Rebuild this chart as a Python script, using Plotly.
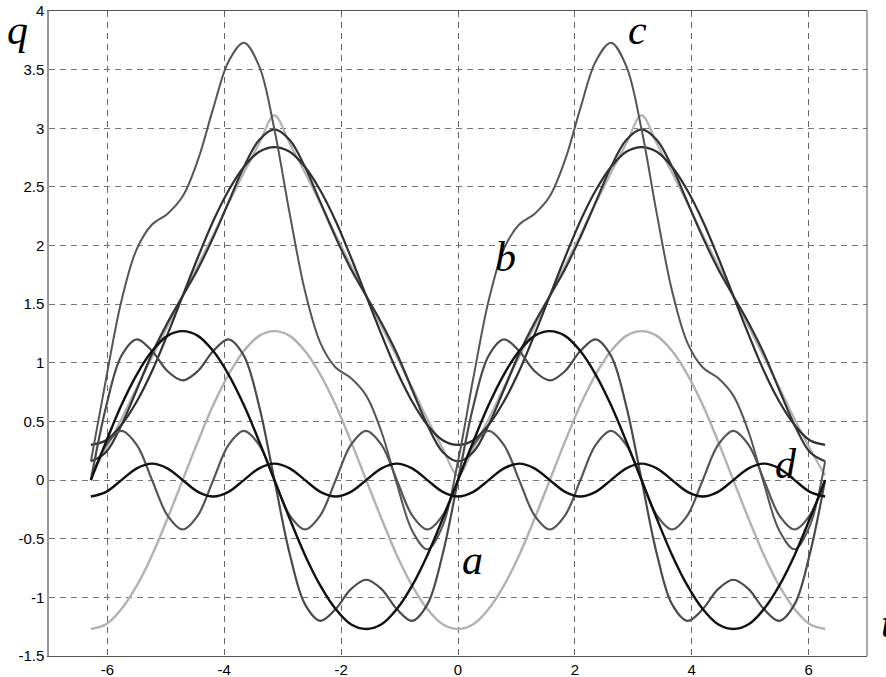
import plotly.graph_objects as go

# sampling grid t (from -2*pi to 2*pi, step pi/12)
t = [-6.283, -6.021, -5.760, -5.498, -5.236, -4.974, -4.712, -4.451, -4.189, -3.927,
     -3.665, -3.403, -3.142, -2.880, -2.618, -2.356, -2.094, -1.833, -1.571, -1.309,
     -1.047, -0.785, -0.524, -0.262, 0.000, 0.262, 0.524, 0.785, 1.047, 1.309,
     1.571, 1.833, 2.094, 2.356, 2.618, 2.880, 3.142, 3.403, 3.665, 3.927,
     4.189, 4.451, 4.712, 4.974, 5.236, 5.498, 5.760, 6.021, 6.283]

# first cosine harmonic (light gray)
cos1 = [-1.27, -1.23, -1.10, -0.90, -0.64, -0.33, 0.00, 0.33, 0.64, 0.90, 1.10, 1.23, 1.27,
        1.23, 1.10, 0.90, 0.64, 0.33, 0.00, -0.33, -0.64, -0.90, -1.10, -1.23, -1.27,
        -1.23, -1.10, -0.90, -0.64, -0.33, 0.00, 0.33, 0.64, 0.90, 1.10, 1.23, 1.27,
        1.23, 1.10, 0.90, 0.64, 0.33, 0.00, -0.33, -0.64, -0.90, -1.10, -1.23, -1.27]
# third cosine harmonic (curve d)
cos3 = [-0.14, -0.10, 0.00, 0.10, 0.14, 0.10, 0.00, -0.10, -0.14, -0.10, 0.00, 0.10, 0.14,
        0.10, 0.00, -0.10, -0.14, -0.10, 0.00, 0.10, 0.14, 0.10, 0.00, -0.10, -0.14,
        -0.10, 0.00, 0.10, 0.14, 0.10, 0.00, -0.10, -0.14, -0.10, 0.00, 0.10, 0.14,
        0.10, 0.00, -0.10, -0.14, -0.10, 0.00, 0.10, 0.14, 0.10, 0.00, -0.10, -0.14]
# triangle partial sum, 1 term
tri1 = [0.30, 0.34, 0.47, 0.67, 0.93, 1.24, 1.57, 1.90, 2.21, 2.47, 2.67, 2.80, 2.84,
        2.80, 2.67, 2.47, 2.21, 1.90, 1.57, 1.24, 0.93, 0.67, 0.47, 0.34, 0.30,
        0.34, 0.47, 0.67, 0.93, 1.24, 1.57, 1.90, 2.21, 2.47, 2.67, 2.80, 2.84,
        2.80, 2.67, 2.47, 2.21, 1.90, 1.57, 1.24, 0.93, 0.67, 0.47, 0.34, 0.30]
# triangle partial sum, 2 terms
tri3 = [0.16, 0.24, 0.47, 0.77, 1.08, 1.34, 1.57, 1.80, 2.07, 2.37, 2.67, 2.90, 2.99,
        2.90, 2.67, 2.37, 2.07, 1.80, 1.57, 1.34, 1.08, 0.77, 0.47, 0.24, 0.16,
        0.24, 0.47, 0.77, 1.08, 1.34, 1.57, 1.80, 2.07, 2.37, 2.67, 2.90, 2.99,
        2.90, 2.67, 2.37, 2.07, 1.80, 1.57, 1.34, 1.08, 0.77, 0.47, 0.24, 0.16]
# triangle wave (light gray)
triF = [0.04, 0.27, 0.52, 0.79, 1.05, 1.31, 1.57, 1.83, 2.09, 2.36, 2.62, 2.87, 3.11,
        2.87, 2.62, 2.36, 2.09, 1.83, 1.57, 1.31, 1.05, 0.79, 0.52, 0.27, 0.04,
        0.27, 0.52, 0.79, 1.05, 1.31, 1.57, 1.83, 2.09, 2.36, 2.62, 2.87, 3.11,
        2.87, 2.62, 2.36, 2.09, 1.83, 1.57, 1.31, 1.05, 0.79, 0.52, 0.27, 0.04]
# first sine harmonic (black)
sin1 = [0.00, 0.33, 0.64, 0.90, 1.10, 1.23, 1.27, 1.23, 1.10, 0.90, 0.64, 0.33, 0.00,
        -0.33, -0.64, -0.90, -1.10, -1.23, -1.27, -1.23, -1.10, -0.90, -0.64, -0.33, 0.00,
        0.33, 0.64, 0.90, 1.10, 1.23, 1.27, 1.23, 1.10, 0.90, 0.64, 0.33, 0.00,
        -0.33, -0.64, -0.90, -1.10, -1.23, -1.27, -1.23, -1.10, -0.90, -0.64, -0.33, 0.00]
# third sine harmonic
sin3 = [0.00, 0.30, 0.42, 0.30, 0.00, -0.30, -0.42, -0.30, 0.00, 0.30, 0.42, 0.30, 0.00,
        -0.30, -0.42, -0.30, 0.00, 0.30, 0.42, 0.30, 0.00, -0.30, -0.42, -0.30, 0.00,
        0.30, 0.42, 0.30, 0.00, -0.30, -0.42, -0.30, 0.00, 0.30, 0.42, 0.30, 0.00,
        -0.30, -0.42, -0.30, 0.00, 0.30, 0.42, 0.30, 0.00, -0.30, -0.42, -0.30, 0.00]
# square partial sum, 2 terms
sq3 = [0.00, 0.63, 1.06, 1.20, 1.10, 0.93, 0.85, 0.93, 1.10, 1.20, 1.06, 0.63, 0.00,
       -0.63, -1.06, -1.20, -1.10, -0.93, -0.85, -0.93, -1.10, -1.20, -1.06, -0.63, 0.00,
       0.63, 1.06, 1.20, 1.10, 0.93, 0.85, 0.93, 1.10, 1.20, 1.06, 0.63, 0.00,
       -0.63, -1.06, -1.20, -1.10, -0.93, -0.85, -0.93, -1.10, -1.20, -1.06, -0.63, 0.00]
# combined curve (c)
comb = [0.16, 0.87, 1.53, 1.97, 2.18, 2.27, 2.42, 2.73, 3.17, 3.57, 3.73, 3.53, 2.99,
        2.27, 1.61, 1.17, 0.96, 0.87, 0.72, 0.41, -0.03, -0.43, -0.59, -0.39, 0.16,
        0.87, 1.53, 1.97, 2.18, 2.27, 2.42, 2.73, 3.17, 3.57, 3.73, 3.53, 2.99,
        2.27, 1.61, 1.17, 0.96, 0.87, 0.72, 0.41, -0.03, -0.43, -0.59, -0.39, 0.16]

x_ticks = [-6, -4, -2, 0, 2, 4, 6]
x_labels = ["-6", "-4", "-2", "0", "2", "4", "6"]
y_ticks = [-1.5, -1, -0.5, 0, 0.5, 1, 1.5, 2, 2.5, 3, 3.5, 4]
y_labels = ["-1.5", "-1", "-0.5", "0", "0.5", "1", "1.5", "2", "2.5", "3", "3.5", "4"]

series = [
    (triF, "#b2b2b2", 2.2),
    (cos1, "#b2b2b2", 2.4),
    (tri1, "#2f2f2f", 2.2),
    (tri3, "#333333", 2.2),
    (sin3, "#555555", 2.2),
    (sq3, "#4a4a4a", 2.2),
    (comb, "#555555", 2.0),
    (sin1, "#111111", 2.4),
    (cos3, "#111111", 2.4),
]

fig = go.Figure()
for ys, col, w in series:
    fig.add_trace(go.Scatter(x=t, y=ys, mode="lines",
                             line=dict(color=col, width=w, shape="spline", smoothing=1.0),
                             hoverinfo="skip", showlegend=False))

serif = dict(family="Liberation Serif", size=42, color="black")
labels = [("a", 0.24, -0.68), ("b", 0.81, 1.90), ("c", 3.07, 3.84), ("d", 5.62, 0.14)]
for txt, xx, yy in labels:
    fig.add_annotation(x=xx, y=yy, xref="x", yref="y", text=f"<i>{txt}</i>",
                       showarrow=False, font=serif, xanchor="center", yanchor="middle")

fig.add_annotation(x=-0.038, y=0.97, xref="paper", yref="paper", text="<i>q</i>",
                   showarrow=False, font=serif, xanchor="center", yanchor="middle")
fig.add_annotation(x=1.015, y=-1.22, xref="paper", yref="y", text="<i>t</i>",
                   showarrow=False, font=serif, xanchor="left", yanchor="middle")

fig.add_shape(type="line", xref="paper", yref="paper", x0=1, x1=1, y0=0, y1=1,
              line=dict(color="#555555", width=1))

tickfont = dict(family="Liberation Sans", size=15, color="black")
fig.update_xaxes(range=[-7, 7], tickvals=x_ticks, ticktext=x_labels, tickfont=tickfont,
                 showgrid=True, gridcolor="#666666", gridwidth=1, griddash="6px,5px",
                 zeroline=False, showline=True, linecolor="#555555", linewidth=1,
                 mirror=True, ticks="", automargin=False)
fig.update_yaxes(range=[-1.5, 4], tickvals=y_ticks, ticktext=y_labels, tickfont=tickfont,
                 showgrid=True, gridcolor="#777777", gridwidth=1, griddash="6px,5px",
                 zeroline=False, showline=True, linecolor="#9a9a9a", linewidth=1.5,
                 mirror=False, ticks="", automargin=False)

fig.update_layout(width=886, height=677, margin=dict(l=49, r=19, t=11, b=21),
                  plot_bgcolor="white", paper_bgcolor="white")

# remove the default page margin so the figure fills the window exactly
fig.write_html("out.html", config={"displayModeBar": False},
               post_script="document.body.style.margin='0';document.body.style.overflow='hidden';")
